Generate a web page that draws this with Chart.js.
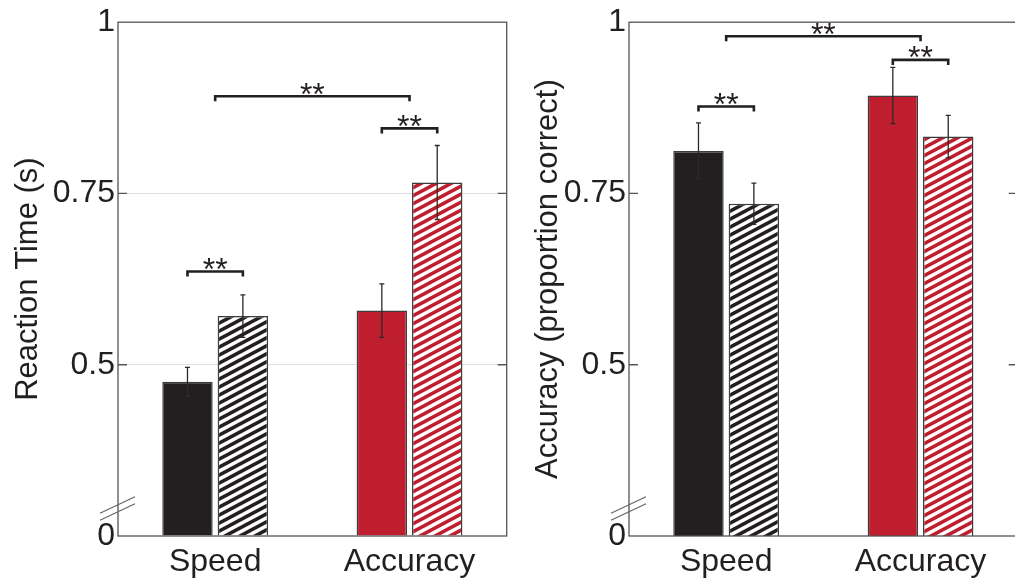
<!DOCTYPE html>
<html><head><meta charset="utf-8">
<script src="https://cdn.jsdelivr.net/npm/chart.js@4.4.0/dist/chart.umd.min.js"></script>
<style>
html,body{margin:0;padding:0;background:#fff;overflow:hidden;width:1015px;height:581px;}
#c1{position:absolute;left:0;top:0;}
#c2{position:absolute;left:511px;top:0;}
</style></head><body>
<canvas id="c1" width="510" height="581"></canvas>
<canvas id="c2" width="510" height="581"></canvas>
<script>
// ---- data ----
const categories = ['Speed', 'Accuracy'];
const tickValues = [0.25, 0.5, 0.75, 1];
const tickLabels = ['0', '0.5', '0.75', '1'];

const rtSolid = [0.475, 0.579];
const rtSolidErr = [0.021, 0.039];
const rtHatched = [0.571, 0.766];
const rtHatchedErr = [0.031, 0.054];
const rtBracketY = [0.636, 0.845, 0.892];   // Speed pair, Accuracy pair, Speed vs Accuracy

const accSolid = [0.812, 0.893];
const accSolidErr = [0.041, 0.041];
const accHatched = [0.735, 0.833];
const accHatchedErr = [0.030, 0.031];
const accBracketY = [0.877, 0.945, 0.9795];

const yTitles = ['Reaction Time (s)', 'Accuracy (proportion correct)'];
const sigLabel = '**';

// ---- styles ----
const FONT = '"Liberation Sans", Arial, Helvetica, sans-serif';
const INK = '#231f20';
const BLACK = '#231f20';
const RED = '#be1e2d';
Chart.defaults.font.family = FONT;
Chart.defaults.color = INK;

function hatch(color) {
  const w = 15, h = 8;
  const c = document.createElement('canvas');
  c.width = w; c.height = h;
  const g = c.getContext('2d');
  g.fillStyle = '#ffffff';
  g.fillRect(0, 0, w, h);
  g.strokeStyle = color;
  g.lineWidth = 3.6;
  for (let k = -1; k <= 1; k++) {
    g.beginPath();
    g.moveTo(-w, 2 * h + k * h);
    g.lineTo(2 * w, -h + k * h);
    g.stroke();
  }
  return g.createPattern(c, 'repeat');
}

const decor = {
  id: 'decor',
  afterDatasetsDraw(chart, args, o) {
    const ctx = chart.ctx;
    const ca = chart.chartArea;
    const xs = chart.scales.x, ys = chart.scales.y;
    ctx.save();
    // error bars
    ctx.strokeStyle = '#2a2a2a';
    ctx.lineWidth = 1.3;
    [0, 1].forEach(di => {
      const meta = chart.getDatasetMeta(di);
      const vals = chart.data.datasets[di].data;
      meta.data.forEach((bar, i) => {
        const e = o.errors[di][i];
        const y1 = ys.getPixelForValue(vals[i] + e);
        const y2 = ys.getPixelForValue(vals[i] - e);
        ctx.beginPath();
        ctx.moveTo(bar.x, y1); ctx.lineTo(bar.x, y2);
        ctx.moveTo(bar.x - 2.5, y1); ctx.lineTo(bar.x + 2.5, y1);
        ctx.moveTo(bar.x - 2.5, y2); ctx.lineTo(bar.x + 2.5, y2);
        ctx.stroke();
      });
    });
    // plot box
    ctx.strokeStyle = '#555';
    ctx.lineWidth = 1.3;
    ctx.strokeRect(ca.left, ca.top, ca.right - ca.left, ca.bottom - ca.top);
    // inward ticks
    [0.5, 0.75].forEach(v => {
      const y = ys.getPixelForValue(v);
      ctx.beginPath();
      ctx.moveTo(ca.left, y); ctx.lineTo(ca.left + 9, y);
      ctx.moveTo(ca.right - 9, y); ctx.lineTo(ca.right, y);
      ctx.stroke();
    });
    // axis break marks
    ctx.strokeStyle = '#666';
    ctx.lineWidth = 1.2;
    [0, 7].forEach(d => {
      ctx.beginPath();
      ctx.moveTo(ca.left - 18, ca.bottom - 22.7 + d);
      ctx.lineTo(ca.left + 17, ca.bottom - 39.3 + d);
      ctx.stroke();
    });
    // significance brackets
    const m0 = chart.getDatasetMeta(0).data, m1 = chart.getDatasetMeta(1).data;
    const spans = [
      [m0[0].x, m1[0].x],
      [m0[1].x, m1[1].x],
      [xs.getPixelForValue(0), xs.getPixelForValue(1)]
    ];
    ctx.strokeStyle = INK;
    ctx.fillStyle = INK;
    ctx.lineWidth = 2.6;
    ctx.font = '32px ' + FONT;
    ctx.textAlign = 'center';
    ctx.textBaseline = 'alphabetic';
    spans.forEach((s, i) => {
      const y = ys.getPixelForValue(o.brackets[i]);
      ctx.beginPath();
      ctx.moveTo(s[0], y + 5); ctx.lineTo(s[0], y); ctx.lineTo(s[1], y); ctx.lineTo(s[1], y + 5);
      ctx.stroke();
      ctx.fillText(sigLabel, (s[0] + s[1]) / 2, y + 8.5);
    });
    ctx.restore();
  }
};

function makeChart(id, solid, hatched, solidErr, hatchedErr, brackets, title, titlePad, grid) {
  const el = document.getElementById(id);
  return new Chart(el, {
    type: 'bar',
    data: {
      labels: categories,
      datasets: [
        { data: solid, backgroundColor: [BLACK, RED] },
        { data: hatched, backgroundColor: [hatch(BLACK), hatch(RED)] }
      ]
    },
    options: {
      responsive: false,
      devicePixelRatio: 1,
      animation: false,
      layout: { padding: { top: 22, right: 3.3, left: 0, bottom: 0 } },
      datasets: {
        bar: {
          base: 0.25,
          categoryPercentage: 0.57,
          barPercentage: 0.91,
          borderColor: '#3c3c3c',
          borderWidth: 1.5,
          borderSkipped: 'start'
        }
      },
      plugins: {
        legend: { display: false },
        tooltip: { enabled: false },
        decor: { errors: [solidErr, hatchedErr], brackets: brackets }
      },
      scales: {
        x: {
          type: 'category',
          offset: true,
          grid: { display: false, drawTicks: false },
          border: { display: false },
          ticks: { font: { size: 32 }, color: INK, padding: 7 },
          afterFit: s => { s.height = 45; }
        },
        y: {
          min: 0.25,
          max: 1,
          afterBuildTicks: s => { s.ticks = tickValues.map(v => ({ value: v })); },
          ticks: {
            font: { size: 32 }, color: INK, padding: 3,
            callback: v => tickLabels[tickValues.indexOf(v)]
          },
          grid: {
            display: grid,
            drawTicks: false,
            color: c => (c.tick && (c.tick.value === 0.5 || c.tick.value === 0.75)) ? '#dedede' : 'rgba(0,0,0,0)',
            lineWidth: 1
          },
          border: { display: false },
          title: { display: true, text: title, font: { size: 31 }, color: INK, padding: { top: titlePad, bottom: 0 } },
          afterFit: s => { s.width = 118; }
        }
      }
    },
    plugins: [decor]
  });
}

makeChart('c1', rtSolid, rtHatched, rtSolidErr, rtHatchedErr, rtBracketY, yTitles[0], 10, true);
makeChart('c2', accSolid, accHatched, accSolidErr, accHatchedErr, accBracketY, yTitles[1], 19, false);
</script>
</body></html>
